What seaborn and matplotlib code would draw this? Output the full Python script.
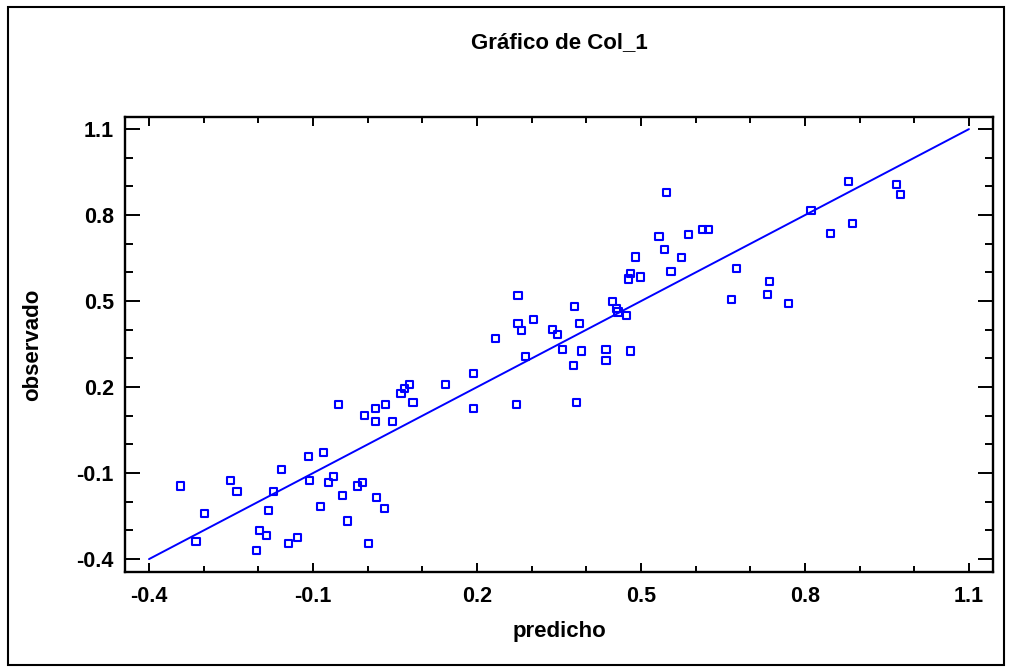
import numpy as np
import pandas as pd
import matplotlib
matplotlib.use('Agg')
import matplotlib.pyplot as plt
from matplotlib.patches import Rectangle
import seaborn as sns

# valores
predicho = [-0.343, -0.314, -0.298, -0.251, -0.239, -0.204, -0.198, -0.185, -0.182, -0.173,
            -0.157, -0.144, -0.128, -0.109, -0.107, -0.087, -0.081, -0.071, -0.062, -0.053,
            -0.046, -0.037, -0.018, -0.009, -0.005, 0.001, 0.014, 0.014, 0.017, 0.030,
            0.033, 0.045, 0.061, 0.067, 0.077, 0.083, 0.143, 0.193, 0.193, 0.234,
            0.272, 0.275, 0.275, 0.282, 0.288, 0.303, 0.338, 0.348, 0.357, 0.376,
            0.379, 0.382, 0.388, 0.391, 0.436, 0.436, 0.448, 0.455, 0.458, 0.474,
            0.480, 0.477, 0.480, 0.499, 0.490, 0.533, 0.543, 0.546, 0.555, 0.574,
            0.587, 0.612, 0.624, 0.666, 0.675, 0.732, 0.735, 0.770, 0.811, 0.846,
            0.880, 0.887, 0.968, 0.975]
observado = [-0.145, -0.338, -0.242, -0.125, -0.164, -0.371, -0.300, -0.319, -0.229, -0.164,
             -0.087, -0.345, -0.324, -0.043, -0.125, -0.215, -0.029, -0.132, -0.113, 0.138,
             -0.178, -0.267, -0.145, -0.132, 0.100, -0.345, 0.126, 0.080, -0.184, -0.222,
             0.138, 0.080, 0.177, 0.196, 0.209, 0.145, 0.209, 0.248, 0.126, 0.370,
             0.140, 0.518, 0.422, 0.396, 0.306, 0.435, 0.402, 0.384, 0.332, 0.274,
             0.480, 0.145, 0.422, 0.326, 0.332, 0.293, 0.499, 0.473, 0.462, 0.449,
             0.326, 0.577, 0.597, 0.584, 0.654, 0.724, 0.680, 0.879, 0.602, 0.653,
             0.731, 0.751, 0.751, 0.506, 0.615, 0.524, 0.570, 0.492, 0.815, 0.737,
             0.917, 0.770, 0.906, 0.873]
linea_x = [-0.4, 1.1]
linea_y = [-0.4, 1.1]
ticks = [-0.4, -0.1, 0.2, 0.5, 0.8, 1.1]
tick_labels = ['-0.4', '-0.1', '0.2', '0.5', '0.8', '1.1']
minor_ticks = [-0.3, -0.2, 0.0, 0.1, 0.3, 0.4, 0.6, 0.7, 0.9, 1.0]

sns.set_theme(style='white')
plt.rcParams['font.family'] = ['Liberation Sans', 'DejaVu Sans']
plt.rcParams['axes.unicode_minus'] = False

df = pd.DataFrame({'predicho': predicho, 'observado': observado})

fig = plt.figure(figsize=(10.11, 6.69), dpi=100)
ax = fig.add_axes([0.1236, 0.145, 0.8586, 0.680])

sns.lineplot(x=linea_x, y=linea_y, color='#0000ff', lw=1.4, ax=ax)
sns.scatterplot(data=df, x='predicho', y='observado', marker='s', s=26,
                facecolor='none', edgecolor='#0000ff', linewidth=1.5, ax=ax, zorder=3)

ax.set_xlim(-0.444, 1.144)
ax.set_ylim(-0.445, 1.142)
ax.set_xticks(ticks)
ax.set_xticklabels(tick_labels)
ax.set_yticks(ticks)
ax.set_yticklabels(tick_labels)
ax.set_xticks(minor_ticks, minor=True)
ax.set_yticks(minor_ticks, minor=True)

for s in ax.spines.values():
    s.set_visible(True)
    s.set_color('black')
    s.set_linewidth(1.7)

ax.tick_params(axis='x', which='major', direction='in', top=True, bottom=True,
               length=6.5, width=1.4, color='black', pad=10, labelsize=15.5)
ax.tick_params(axis='x', which='minor', direction='in', top=True, bottom=True,
               length=4.5, width=1.4, color='black')
ax.tick_params(axis='y', which='major', direction='in', left=True, right=True,
               length=10.8, width=1.4, color='black', pad=8, labelsize=15.5)
ax.tick_params(axis='y', which='minor', direction='in', left=True, right=True,
               length=5.8, width=1.4, color='black')
for lab in ax.get_xticklabels() + ax.get_yticklabels():
    lab.set_fontweight('bold')
    lab.set_color('black')

ax.set_xlabel('')
ax.set_ylabel('')
fig.text(0.553, (669 - 632) / 669, 'predicho', ha='center', va='center',
         fontsize=16, fontweight='bold', color='black')
fig.text(33 / 1011, (669 - 345) / 669, 'observado', ha='center', va='center',
         rotation=90, fontsize=16, fontweight='bold', color='black')
fig.text(0.553, (669 - 43) / 669, 'Gráfico de Col_1', ha='center', va='center',
         fontsize=16, fontweight='bold', color='black')

# marco exterior
fig.patches.append(Rectangle((8 / 1011, 4 / 669), 996 / 1011, 658 / 669,
                             transform=fig.transFigure, fill=False,
                             edgecolor='black', linewidth=1.5))

fig.savefig('out.png', dpi=100)
